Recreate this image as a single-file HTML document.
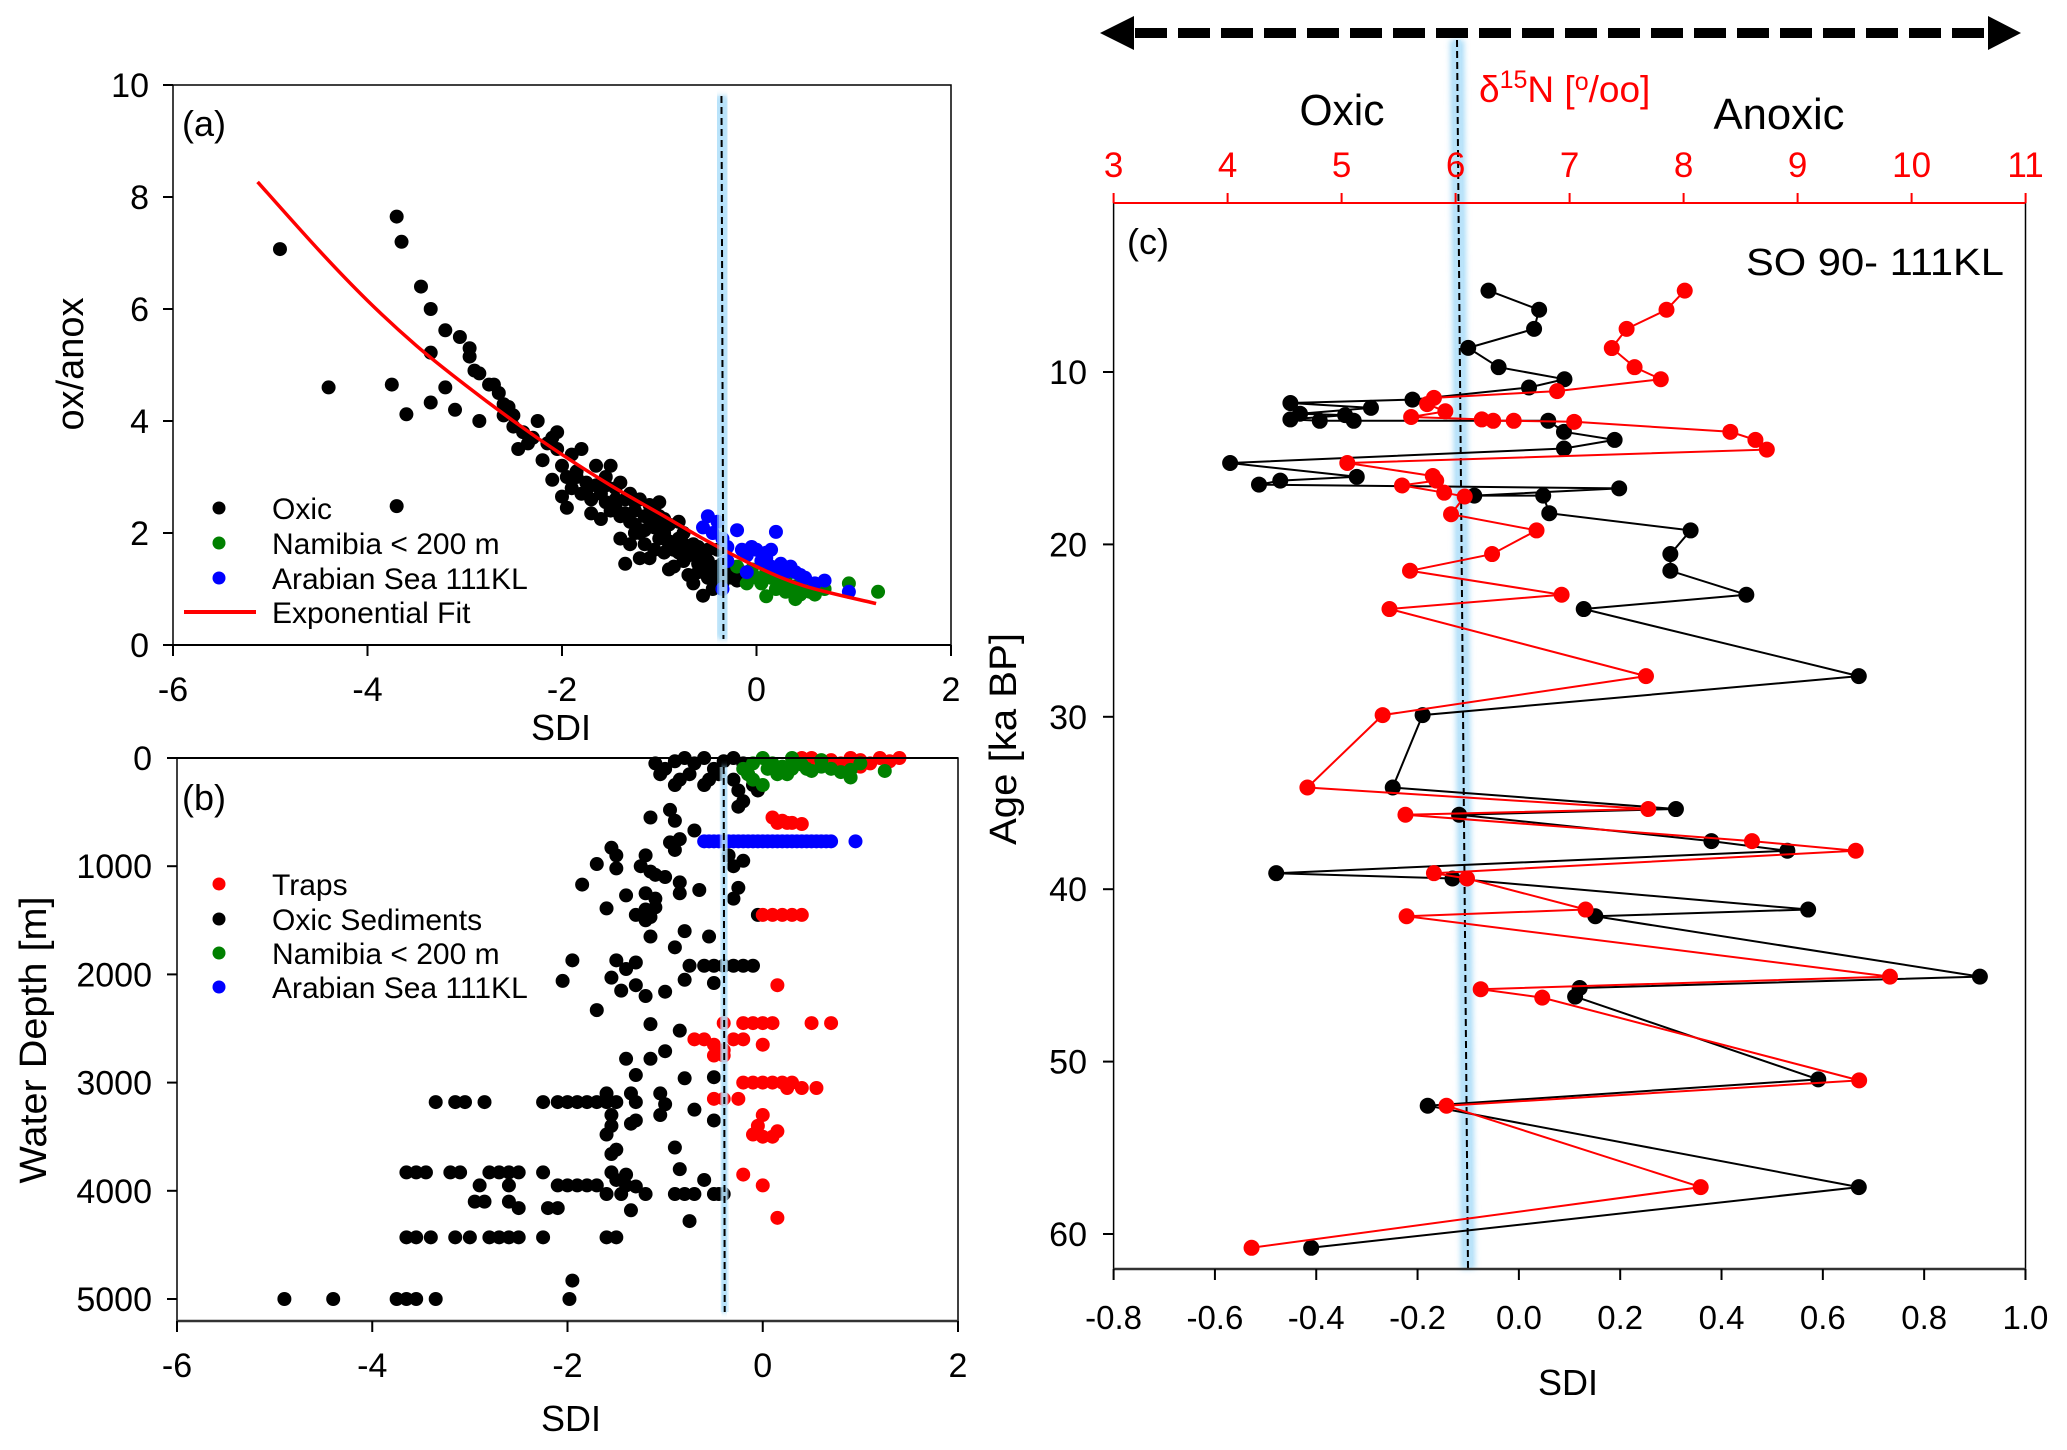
<!DOCTYPE html>
<html><head><meta charset="utf-8">
<style>
html,body{margin:0;padding:0;background:#fff;}
svg{display:block;font-family:"Liberation Sans",Arial,sans-serif;}
</style></head>
<body>
<svg id="fig" xmlns="http://www.w3.org/2000/svg" width="2067" height="1450" viewBox="0 0 2067 1450">
<defs>
<filter id="glow" x="-200%" y="-5%" width="500%" height="110%"><feGaussianBlur stdDeviation="3"/></filter>
</defs>
</svg>
<script>
// ---------- Panel (a) data ----------
const aOxicX=[-4.9,-4.4,-3.7,-3.65,-3.7,-3.75,-3.6,-3.45,-3.35,-3.35,-3.35,-3.2,-3.2,-3.1,-3.05,-2.95,-2.95,-2.9,-2.85,-2.85,-2.75,-2.7,-2.65,-2.6,-2.6,-2.55,-2.5,-2.5,-2.45,-2.3,-2.25,-2.2,-2.15,-2.1,-2.05,-2.05,-2.0,-2.0,-1.95,-1.9,-1.85,-1.8,-1.75,-1.7,-1.65,-1.6,-1.55,-1.5,-1.5,-1.45,-1.4,-1.4,-1.35,-1.35,-1.3,-1.3,-1.25,-1.2,-1.2,-1.15,-1.1,-1.1,-1.05,-1.05,-1.0,-1.0,-0.95,-0.9,-0.9,-0.85,-0.8,-0.75,-0.75,-0.7,-0.65,-0.6,-0.6,-0.55,-0.5,-0.5,-0.45,-0.4,-0.4,-0.35,-0.3,-1.55,-1.7,-1.45,-1.25,-1.15,-0.95,-0.85,-0.7,-1.6,-1.9,-1.8,-2.1,-1.0,-0.8,-1.3,-1.2,-0.65,-0.25,-0.2,-0.15,-1.05,-0.9,-0.6,-0.45,-1.25,-1.4,-2.4,-2.35,-1.95,-1.75,-1.65,-1.45,-1.35,-1.15,-1.0,-0.9,-0.8,-0.7,-0.55,-0.45,-0.35,-1.85,-1.55,-1.25,-1.1,-0.95,-0.75,-0.6,-0.5,-0.4];
const aOxicY=[7.07,4.6,7.65,7.2,2.48,4.65,4.12,6.4,6.0,5.22,4.33,5.62,4.6,4.2,5.5,5.3,5.15,4.9,4.85,4.0,4.65,4.65,4.5,4.3,4.1,4.25,4.1,3.9,3.5,3.7,4.0,3.3,3.6,3.7,3.8,3.5,3.2,2.65,2.45,3.4,3.1,3.5,2.9,2.6,3.2,2.7,3.0,3.2,2.4,2.8,2.9,1.9,2.6,1.45,2.2,2.7,2.4,2.0,2.6,2.3,1.55,2.5,2.1,1.7,2.3,1.9,2.0,1.35,2.15,1.7,1.9,1.5,2.0,1.6,1.8,1.3,1.6,0.88,1.5,1.2,1.0,1.4,1.7,1.1,1.3,2.55,2.35,2.45,2.15,1.8,1.65,1.4,1.25,2.25,2.8,2.7,2.95,2.55,2.2,1.8,1.55,1.1,1.2,1.15,1.3,2.4,1.8,1.45,1.3,2.0,2.3,3.8,3.6,3.0,2.75,2.85,2.6,2.35,2.05,2.05,1.85,1.65,1.75,1.4,1.25,1.45,3.0,2.85,2.55,2.25,2.25,1.8,1.75,1.7,1.2];
const aNamX=[-0.2,-0.1,0,0.05,0.1,0.15,0.2,0.25,0.3,0.35,0.4,0.45,0.5,0.55,0.6,0.7,0.95,1.25,0.1,-0.05,0.3,0.2,0.4];
const aNamY=[1.4,1.1,1.2,1.1,0.87,1.2,1.0,1.1,0.95,1.0,0.82,0.9,1.0,0.95,0.9,1.0,1.1,0.95,1.3,1.35,1.2,1.15,1.05];
const aArabX=[-0.55,-0.5,-0.45,-0.4,-0.35,-0.3,-0.2,-0.15,-0.1,0,0.05,0.1,0.15,0.2,0.15,0.25,0.3,0.35,0.45,0.5,0.6,0.7,0.95,-0.35,-0.3,-0.1,-0.05,0.1,0.25,0.4];
const aArabY=[2.1,2.3,2.0,2.2,1.9,1.75,2.05,1.7,1.6,1.7,1.5,1.65,1.4,2.02,1.7,1.45,1.3,1.4,1.25,1.2,1.1,1.15,0.95,1.0,1.5,1.3,1.75,1.55,1.35,1.3];
const fitX=[-5.13,-4.5,-4.0,-3.5,-3.0,-2.5,-2.0,-1.5,-1.0,-0.5,0.0,0.5,1.23];
const fitY=[8.27,7.05,6.15,5.35,4.65,4.0,3.4,2.85,2.35,1.85,1.4,1.05,0.74];
const aXTicks=[-6,-4,-2,0,2];
const aYTicks=[0,2,4,6,8,10];
const aThreshold=-0.35;

// ---------- Panel (b) data ----------
const bTrapX=[0.4,0.5,0.7,0.8,0.9,1.0,1.1,1.2,1.3,1.4,0.6,1.0,0.1,0.15,0.2,0.25,0.3,0.4,0.0,0.1,0.2,0.3,0.4,0.15,-0.4,-0.2,-0.1,0.0,0.1,0.5,0.7,-0.7,-0.6,-0.5,-0.4,-0.3,-0.2,0.0,-0.5,-0.4,-0.2,-0.1,0.0,0.1,0.2,0.3,0.4,0.55,0.25,-0.5,-0.4,-0.25,0.0,-0.05,0.0,0.1,0.15,-0.1,-0.2,0.0,0.15];
const bTrapD=[0,0,20,50,0,20,50,0,30,0,60,80,550,600,580,600,600,610,1450,1450,1450,1450,1450,2100,2450,2450,2450,2450,2450,2450,2450,2600,2600,2650,2700,2600,2600,2650,2750,2750,3000,3000,3000,3000,3000,3000,3050,3050,3050,3150,3150,3150,3300,3400,3500,3500,3450,3480,3850,3950,4250];
const bOxX=[-1.1,-1.0,-0.9,-0.8,-0.7,-0.6,-0.5,-0.4,-0.3,-0.2,-1.05,-0.85,-0.75,-0.55,-0.45,-0.3,-0.6,-0.9,-0.15,-0.25,-0.2,-0.25,-0.1,-0.05,-1.15,-0.95,-0.9,-0.7,-0.85,-0.95,-0.9,-1.55,-1.5,-1.7,-1.5,-1.2,-1.25,-1.15,-1.1,-1.0,-0.85,-1.85,-1.4,-1.2,-1.1,-0.85,-0.65,-1.6,-1.3,-1.2,-1.15,-1.1,-1.2,-0.05,-0.3,-0.25,-0.3,-0.35,-0.2,-1.15,-0.8,-0.9,-0.55,-1.95,-1.5,-1.3,-1.4,-2.05,-1.55,-1.45,-1.3,-1.2,-1.0,-0.8,-0.5,-1.7,-0.75,-0.6,-0.5,-0.4,-0.3,-0.2,-0.1,-1.15,-0.85,-1.4,-1.15,-1.0,-1.3,-0.8,-0.5,-1.6,-1.35,-1.05,-3.35,-3.15,-3.05,-2.85,-2.25,-2.1,-2.0,-1.9,-1.8,-1.7,-1.6,-1.5,-1.3,-1.0,-0.7,-0.5,-1.55,-1.55,-1.6,-1.35,-1.3,-1.05,-0.9,-1.5,-1.55,-0.85,-0.6,-3.65,-3.55,-3.45,-3.2,-3.1,-2.8,-2.7,-2.6,-2.5,-2.25,-1.55,-1.4,-1.5,-2.9,-2.1,-2.0,-1.9,-1.8,-1.7,-1.4,-1.3,-2.6,-1.6,-1.45,-1.2,-0.9,-0.8,-0.7,-0.5,-0.45,-0.4,-2.95,-2.85,-2.6,-2.5,-2.2,-2.1,-1.35,-0.75,-3.65,-3.55,-3.4,-3.15,-3.0,-2.8,-2.7,-2.6,-2.5,-2.25,-1.6,-1.5,-1.95,-1.98,-4.9,-4.4,-3.75,-3.65,-3.55,-3.35];
const bOxD=[50,100,30,0,50,0,100,30,0,50,150,200,150,200,150,200,250,250,150,300,400,450,250,300,550,480,580,670,750,780,850,830,900,980,1020,900,1000,1050,1080,1100,1150,1170,1270,1250,1300,1250,1220,1390,1450,1400,1470,1380,1500,1450,1000,1200,1300,900,950,1650,1600,1750,1650,1870,1870,1890,1950,2060,2030,2150,2100,2200,2160,2050,2080,2330,1920,1920,1920,1920,1920,1920,1920,2460,2520,2780,2780,2710,2930,2960,2950,3100,3100,3100,3180,3180,3180,3180,3180,3180,3180,3180,3180,3180,3180,3180,3180,3200,3250,3350,3300,3400,3480,3380,3350,3300,3600,3620,3660,3800,3900,3830,3830,3830,3830,3830,3830,3830,3830,3830,3830,3830,3850,3900,3950,3950,3950,3950,3950,3950,3950,3960,3950,4030,4030,4030,4030,4030,4030,4030,4030,4030,4100,4100,4100,4160,4160,4160,4180,4280,4430,4430,4430,4430,4430,4430,4430,4430,4430,4430,4430,4430,4830,5000,5000,5000,5000,5000,5000,5000];
const bNamX=[-0.2,-0.1,0,0.05,0.1,0.15,0.2,0.3,0.4,0.5,0.6,0.7,0.8,0.9,1.0,1.25,-0.1,0,0.15,0.9,0.45,0.3,0.6,-0.15,0.25];
const bNamD=[100,50,0,100,50,150,80,100,60,120,80,100,130,110,50,120,200,250,100,180,100,0,20,150,150];
const bArabX=[-0.6,-0.55,-0.5,-0.45,-0.4,-0.35,-0.3,-0.25,-0.2,-0.15,-0.1,-0.05,0,0.05,0.1,0.15,0.2,0.25,0.3,0.35,0.4,0.45,0.5,0.55,0.6,0.65,0.7,0.95];
const bArabD=[770,770,770,770,770,770,770,770,770,770,770,770,770,770,770,770,770,770,770,770,770,770,770,770,770,770,770,770];
const bXTicks=[-6,-4,-2,0,2];
const bYTicks=[0,1000,2000,3000,4000,5000];
const bThreshold=-0.4;

// ---------- Panel (c) data ----------
const cAgeSDI=[5.28,6.39,7.5,8.6,9.72,10.42,10.9,11.6,11.8,12.08,12.42,12.5,12.75,12.83,12.83,12.83,13.47,13.94,14.44,15.28,16.08,16.3,16.53,16.75,17.17,17.17,18.19,19.19,20.56,21.53,22.92,23.75,27.64,29.9,34.1,35.35,35.68,37.21,37.77,39.07,39.38,41.18,41.57,45.07,45.73,46.23,51.03,52.56,57.28,60.8];
const cSDI=[-0.06,0.04,0.03,-0.10,-0.04,0.09,0.02,-0.21,-0.451,-0.292,-0.432,-0.343,-0.451,-0.393,-0.326,0.058,0.089,0.189,0.089,-0.570,-0.320,-0.471,-0.513,0.198,-0.088,0.048,0.060,0.339,0.299,0.299,0.449,0.128,0.671,-0.19,-0.249,0.310,-0.118,0.38,0.530,-0.479,-0.131,0.571,0.151,0.910,0.120,0.111,0.591,-0.180,0.671,-0.410];
const cAgeN=[5.28,6.39,7.5,8.61,9.72,10.42,11.11,11.5,11.86,12.28,12.61,12.75,12.83,12.83,12.89,13.47,13.94,14.5,15.28,16.03,16.3,16.58,17.0,17.22,18.25,19.19,20.56,21.53,22.92,23.75,27.64,29.9,34.1,35.35,35.68,37.21,37.77,39.07,39.38,41.18,41.57,45.07,45.8,46.29,51.09,52.56,57.28,60.8];
const cD15N=[8.01,7.85,7.50,7.37,7.57,7.80,6.89,5.81,5.75,5.91,5.61,6.23,6.33,6.51,7.04,8.41,8.63,8.73,5.05,5.80,5.83,5.53,5.90,6.08,5.96,6.71,6.32,5.60,6.93,5.42,7.67,5.36,4.70,7.69,5.56,8.60,9.51,5.81,6.10,7.14,5.57,9.81,6.22,6.76,9.54,5.92,8.15,4.21];
const cXTicks=[-0.8,-0.6,-0.4,-0.2,0.0,0.2,0.4,0.6,0.8,1.0];
const cXTickLabels=["-0.8","-0.6","-0.4","-0.2","0.0","0.2","0.4","0.6","0.8","1.0"];
const cYTicks=[10,20,30,40,50,60];
const cNTicks=[3,4,5,6,7,8,9,10,11];

// ---------- scales ----------
const ax=v=>173+(v+6)*97.25, ay=v=>645-v*56;
const bx=v=>177+(v+6)*97.625, by=d=>758+d*0.1082;
const cx=v=>1113.6+(v+0.8)*506.6, cn=v=>1113.6+(v-3)*114, cy=a=>199.6+a*17.24;

const NS="http://www.w3.org/2000/svg";
const svg=document.getElementById('fig');
function mk(tag,attrs,parent){const e=document.createElementNS(NS,tag);for(const k in attrs)e.setAttribute(k,attrs[k]);(parent||svg).appendChild(e);return e;}
function txt(s,attrs,parent){const e=mk('text',attrs,parent);e.textContent=s;return e;}
function grp(name){const g=mk('g',{});return g;}

function dots(g,xs,ys,fx,fy,color,r){
  for(let i=0;i<xs.length;i++){
    const c=mk('circle',{cx:fx(xs[i]),cy:fy(ys[i]),r:r,fill:color},g);
    
    
  }
}
function band(g,x1,y1,x2,y2){
  mk('line',{x1:x1,y1:y1,x2:x2,y2:y2,stroke:'#8fd0f5','stroke-width':14,'stroke-opacity':0.75,filter:'url(#glow)'},g);
  mk('line',{x1:x1,y1:y1,x2:x2,y2:y2,stroke:'#bfe6fb','stroke-width':8,'stroke-opacity':0.6},g);
  mk('line',{x1:x1,y1:y1,x2:x2,y2:y2,stroke:'#000','stroke-width':2,'stroke-dasharray':'7,4'},g);
}
function smoothPath(P){
  let d='M'+P[0][0].toFixed(1)+','+P[0][1].toFixed(1);
  for(let i=0;i<P.length-1;i++){
    const p0=P[Math.max(0,i-1)],p1=P[i],p2=P[i+1],p3=P[Math.min(P.length-1,i+2)];
    const c1=[p1[0]+(p2[0]-p0[0])/6,p1[1]+(p2[1]-p0[1])/6];
    const c2=[p2[0]-(p3[0]-p1[0])/6,p2[1]-(p3[1]-p1[1])/6];
    d+='C'+c1[0].toFixed(1)+','+c1[1].toFixed(1)+' '+c2[0].toFixed(1)+','+c2[1].toFixed(1)+' '+p2[0].toFixed(1)+','+p2[1].toFixed(1);
  }
  return d;
}

// ===== Panel (a) =====
(function(){
  const g=grp('panel-a');
  const pts=grp('panel-a-points'); g.appendChild(pts);
  dots(pts,aOxicX,aOxicY,ax,ay,'#000',7);
  dots(pts,aNamX,aNamY,ax,ay,'#008000',7);
  dots(pts,aArabX,aArabY,ax,ay,'#0000ff',7);
  const P=fitX.map((v,i)=>[ax(v),ay(fitY[i])]);
  const fit=mk('path',{d:smoothPath(P),fill:'none',stroke:'#ff0000','stroke-width':3.5,'stroke-linejoin':'round'},g);
  
  
  const th=grp('panel-a-threshold'); g.appendChild(th);
  band(th,ax(aThreshold)-1,96,ax(aThreshold)+1,639);
  const fr=mk('rect',{x:173,y:85,width:778,height:560,fill:'none',stroke:'#000','stroke-width':1.5},g);
  
  
  const xa=grp('panel-a-x-axis'); g.appendChild(xa);
  mk('line',{x1:173,y1:645,x2:951,y2:645,stroke:'#000','stroke-width':2},xa);
  aXTicks.forEach(v=>{mk('line',{x1:ax(v),y1:645,x2:ax(v),y2:656,stroke:'#000','stroke-width':2},xa);
    const t=txt(String(v),{x:ax(v),y:701,'font-size':34,'text-anchor':'middle'},xa);
    
    });
  const ya=grp('panel-a-y-axis'); g.appendChild(ya);
  aYTicks.forEach(v=>{mk('line',{x1:163,y1:ay(v),x2:173,y2:ay(v),stroke:'#000','stroke-width':2},ya);
    const t=txt(String(v),{x:149,y:ay(v)+12,'font-size':34,'text-anchor':'end'},ya);
    
    });
  const xt=txt('SDI',{x:561,y:740,'font-size':36,'text-anchor':'middle'},g);
  
  
  const yt=txt('ox/anox',{x:0,y:0,'font-size':38,'text-anchor':'middle',transform:'translate(83,364) rotate(-90)'},g);
  
  
  const pl=txt('(a)',{x:182,y:136,'font-size':36},g);
  
  
  const lg=grp('legend-a'); g.appendChild(lg);
  const items=[['Oxic','#000'],['Namibia < 200 m','#008000'],['Arabian Sea 111KL','#0000ff']];
  const rows=[508,543,578];
  items.forEach((it,i)=>{mk('circle',{cx:219,cy:rows[i],r:6.5,fill:it[1]},lg);
    const t=txt(it[0],{x:272,y:rows[i]+11,'font-size':30},lg);
    
    });
  mk('line',{x1:184,y1:612,x2:256,y2:612,stroke:'#ff0000','stroke-width':4},lg);
  const t=txt('Exponential Fit',{x:272,y:623,'font-size':30},lg);
  
  
})();

// ===== Panel (b) =====
(function(){
  const g=grp('panel-b');
  const pts=grp('panel-b-points'); g.appendChild(pts);
  dots(pts,bOxX,bOxD,bx,by,'#000',7);
  dots(pts,bTrapX,bTrapD,bx,by,'#ff0000',7);
  dots(pts,bNamX,bNamD,bx,by,'#008000',7);
  dots(pts,bArabX,bArabD,bx,by,'#0000ff',7);
  const th=grp('panel-b-threshold'); g.appendChild(th);
  band(th,bx(bThreshold),767,bx(bThreshold)+1,1312);
  const fr=mk('rect',{x:177,y:758,width:781,height:563,fill:'none',stroke:'#000','stroke-width':1.5},g);
  
  
  const xa=grp('panel-b-x-axis'); g.appendChild(xa);
  mk('line',{x1:177,y1:758,x2:958,y2:758,stroke:'#000','stroke-width':2},xa);
  mk('line',{x1:177,y1:1321,x2:958,y2:1321,stroke:'#333','stroke-width':2.5},xa);
  bXTicks.forEach(v=>{mk('line',{x1:bx(v),y1:1321,x2:bx(v),y2:1332,stroke:'#000','stroke-width':2},xa);
    const t=txt(String(v),{x:bx(v),y:1377,'font-size':34,'text-anchor':'middle'},xa);
    
    });
  const ya=grp('panel-b-y-axis'); g.appendChild(ya);
  bYTicks.forEach(v=>{mk('line',{x1:167,y1:by(v),x2:177,y2:by(v),stroke:'#000','stroke-width':2},ya);
    const t=txt(String(v),{x:152,y:by(v)+12,'font-size':34,'text-anchor':'end'},ya);
    
    });
  const xt=txt('SDI',{x:571,y:1431,'font-size':36,'text-anchor':'middle'},g);
  
  
  const yt=txt('Water Depth [m]',{x:0,y:0,'font-size':38,'text-anchor':'middle',textLength:287,lengthAdjust:'spacingAndGlyphs',transform:'translate(46,1040) rotate(-90)'},g);
  
  
  const pl=txt('(b)',{x:182,y:810,'font-size':36},g);
  
  
  const lg=grp('legend-b'); g.appendChild(lg);
  const items=[['Traps','#ff0000'],['Oxic Sediments','#000'],['Namibia < 200 m','#008000'],['Arabian Sea 111KL','#0000ff']];
  const rows=[884,919,953,987];
  items.forEach((it,i)=>{mk('circle',{cx:219,cy:rows[i],r:6.5,fill:it[1]},lg);
    const t=txt(it[0],{x:272,y:rows[i]+11,'font-size':30},lg);
    
    });
})();

// ===== Panel (c) =====
(function(){
  const g=grp('panel-c');
  const th=grp('panel-c-threshold'); g.appendChild(th);
  band(th,1457,40,1468,1269);
  const sb=grp('series-sdi'); g.appendChild(sb);
  let d='';for(let i=0;i<cSDI.length;i++){d+=(i?'L':'M')+cx(cSDI[i]).toFixed(1)+','+cy(cAgeSDI[i]).toFixed(1);}
  mk('path',{d:d,fill:'none',stroke:'#000','stroke-width':2},sb);
  dots(sb,cSDI,cAgeSDI,cx,cy,'#000',8);
  const sr=grp('series-d15n'); g.appendChild(sr);
  d='';for(let i=0;i<cD15N.length;i++){d+=(i?'L':'M')+cn(cD15N[i]).toFixed(1)+','+cy(cAgeN[i]).toFixed(1);}
  mk('path',{d:d,fill:'none',stroke:'#ff0000','stroke-width':2},sr);
  dots(sr,cD15N,cAgeN,cn,cy,'#ff0000',8);
  mk('line',{x1:1113.6,y1:203,x2:1113.6,y2:1269,stroke:'#000','stroke-width':1.5},g);
  mk('line',{x1:2025.5,y1:203,x2:2025.5,y2:1269,stroke:'#000','stroke-width':1.5},g);
  const xa=grp('panel-c-x-axis'); g.appendChild(xa);
  mk('line',{x1:1113.6,y1:1269,x2:2025.5,y2:1269,stroke:'#333','stroke-width':2.5},xa);
  cXTicks.forEach((v,i)=>{mk('line',{x1:cx(v),y1:1269,x2:cx(v),y2:1280,stroke:'#000','stroke-width':2},xa);
    const t=txt(cXTickLabels[i],{x:cx(v),y:1329,'font-size':33,'text-anchor':'middle'},xa);
    
    });
  const ya=grp('panel-c-y-axis'); g.appendChild(ya);
  cYTicks.forEach(v=>{mk('line',{x1:1103,y1:cy(v),x2:1113.6,y2:cy(v),stroke:'#000','stroke-width':2},ya);
    const t=txt(String(v),{x:1087,y:cy(v)+12,'font-size':34,'text-anchor':'end'},ya);
    
    });
  const na=grp('panel-c-d15n-axis'); g.appendChild(na);
  mk('line',{x1:1113.6,y1:203,x2:2025.5,y2:203,stroke:'#ff0000','stroke-width':2},na);
  cNTicks.forEach(v=>{mk('line',{x1:cn(v),y1:203,x2:cn(v),y2:193,stroke:'#ff0000','stroke-width':2},na);
    const t=txt(String(v),{x:cn(v),y:177,'font-size':35,'text-anchor':'middle',fill:'#ff0000'},na);
    
    });
  const nt=mk('text',{x:1479,y:102,'font-size':37,fill:'#ff0000'},g);
  
  
  nt.innerHTML='δ<tspan font-size="25" dy="-14">15</tspan><tspan dy="14">N [</tspan><tspan font-size="25" dy="-12">o</tspan><tspan dy="12">/oo]</tspan>';
  const xt=txt('SDI',{x:1568,y:1395,'font-size':36,'text-anchor':'middle'},g);
  
  
  const yt=txt('Age [ka BP]',{x:0,y:0,'font-size':38,'text-anchor':'middle',textLength:212,lengthAdjust:'spacingAndGlyphs',transform:'translate(1016,739) rotate(-90)'},g);
  
  
  const pl=txt('(c)',{x:1127,y:254,'font-size':36},g);
  
  
  const so=txt('SO 90- 111KL',{x:2004,y:275,'font-size':38,'text-anchor':'end',textLength:258,lengthAdjust:'spacingAndGlyphs'},g);
  
  
  const ox=txt('Oxic',{x:1342,y:125,'font-size':44,'text-anchor':'middle',textLength:85,lengthAdjust:'spacingAndGlyphs'},g);
  
  
  const an=txt('Anoxic',{x:1779,y:129,'font-size':44,'text-anchor':'middle',textLength:131,lengthAdjust:'spacingAndGlyphs'},g);
  
  
  const ar=grp('oxic-anoxic-arrow'); g.appendChild(ar);
  mk('line',{x1:1135,y1:33,x2:1988,y2:33,stroke:'#000','stroke-width':10,'stroke-dasharray':'32,11'},ar);
  mk('polygon',{points:'1100,33 1134,16 1134,50',fill:'#000'},ar);
  mk('polygon',{points:'2021,33 1988,16 1988,50',fill:'#000'},ar);
})();
</script>
</body></html>
